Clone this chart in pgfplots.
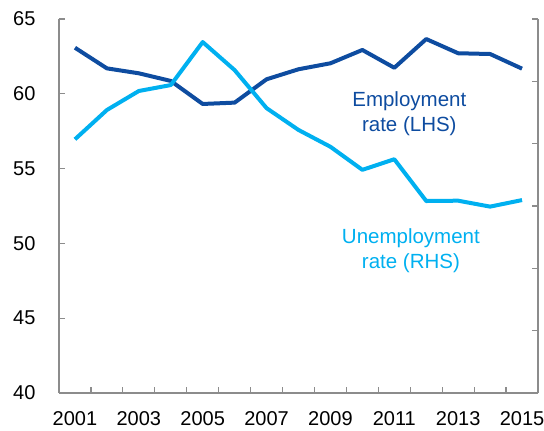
\documentclass[border=0pt]{standalone}
\usepackage{pgfplots}
\pgfplotsset{compat=1.18}
\usepackage{fontspec}
\setmainfont{Liberation Sans}
\definecolor{empblue}{RGB}{14,76,160}
\definecolor{unblue}{RGB}{0,176,240}
\definecolor{axgray}{RGB}{140,140,140}
\begin{document}
\begin{tikzpicture}
\path[use as bounding box] (-59pt,-38pt) rectangle (485pt,393pt);
\pgfplotsset{
  every axis/.append style={
    scale only axis, width=479pt, height=374pt,
    at={(0pt,0pt)}, anchor=south west,
    xmin=2000.5, xmax=2015.5,
    axis line style={axgray, line width=1.4pt},
    tick style={axgray, line width=1.2pt},
    tick align=inside,
    major tick length=6pt,
    minor tick length=6pt,
    /pgf/number format/assume math mode=true,
    /pgf/number format/1000 sep={},
    tick label style={font=\fontsize{20}{22}\selectfont, text=black},
    clip=false,
  }
}
\begin{axis}[
  axis x line*=bottom, axis y line*=left,
  ymin=40, ymax=65, ytick={40,45,...,65},
  xtick={2001,2003,...,2015},
  minor xtick={2001.5,2002.5,...,2014.5},
  xtick style={draw=none},
  minor x tick style={draw=axgray, line width=1.2pt},
  yticklabel style={anchor=east, xshift=-20pt},
  xticklabel style={anchor=north, yshift=-15pt},
]
\addplot[empblue, line width=4pt, line join=round] coordinates {
(2001,63.08) (2002,61.70) (2003,61.37) (2004,60.86) (2005,59.32)
(2006,59.41) (2007,60.97) (2008,61.64) (2009,62.04) (2010,62.93)
(2011,61.74) (2012,63.66) (2013,62.71) (2014,62.66) (2015,61.68)
};
\node[empblue, align=center, font=\fontsize{20.5}{25}\selectfont] at (axis cs:2011.47,58.65) {Employment\\rate (LHS)};
\node[unblue, align=center, font=\fontsize{20.5}{25}\selectfont] at (axis cs:2011.52,49.5) {Unemployment\\rate (RHS)};
\end{axis}
\begin{axis}[
  axis x line=none, axis y line*=right,
  ymin=0, ymax=12, ytick={0,2,...,12},
  yticklabels={},
]
\addplot[unblue, line width=4pt, line join=round] coordinates {
(2001,8.14) (2002,9.08) (2003,9.69) (2004,9.88) (2005,11.26)
(2006,10.36) (2007,9.14) (2008,8.44) (2009,7.90) (2010,7.16)
(2011,7.50) (2012,6.16) (2013,6.17) (2014,5.98) (2015,6.19)
};
\end{axis}
\end{tikzpicture}
\end{document}
